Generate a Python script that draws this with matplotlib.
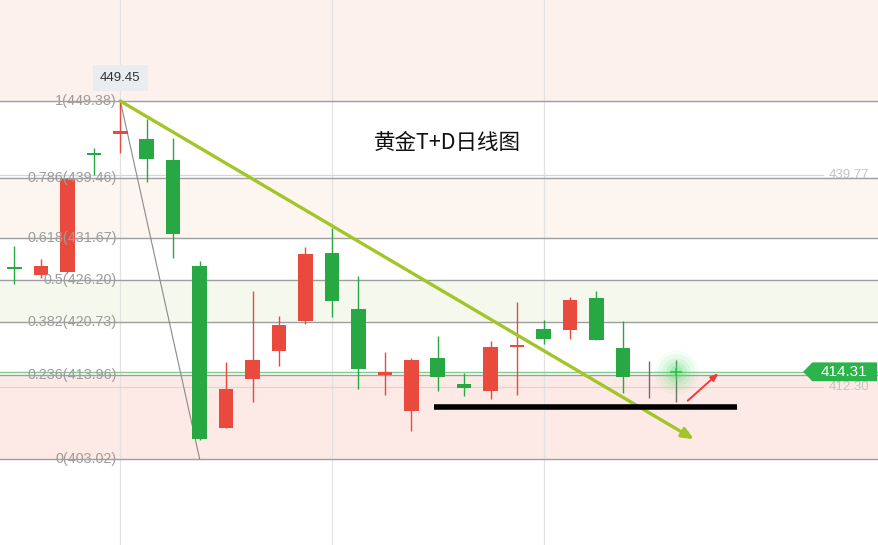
import matplotlib
matplotlib.use("Agg")
import matplotlib.pyplot as plt
from matplotlib.patches import Polygon
import numpy as np

# ---------------- data ----------------
opens  = [427.85, 426.80, 427.20, 442.52, 445.07, 444.46, 441.74, 428.00, 407.00, 413.42,
          417.04, 420.93, 429.66, 422.41, 413.86, 409.27, 416.10, 412.73, 411.87, 417.55,
          419.82, 419.77, 423.87, 417.39, 413.95, 414.31]
closes = [427.75, 428.00, 439.28, 442.44, 445.50, 441.91, 432.12, 405.65, 412.09, 415.84,
          420.37, 429.57, 423.44, 414.64, 414.25, 415.84, 413.68, 412.25, 417.52, 417.70,
          418.60, 423.61, 418.47, 413.68, 413.95, 414.31]
highs  = [430.60, 428.88, 439.45, 443.26, 449.38, 447.01, 444.55, 428.66, 415.62, 424.77,
          421.54, 430.51, 432.89, 426.72, 416.84, 416.06, 418.95, 414.10, 418.30, 423.35,
          420.99, 423.96, 424.81, 420.89, 415.75, 415.84]
lows   = [425.70, 426.46, 427.10, 439.80, 442.70, 438.93, 429.09, 405.50, 407.00, 410.44,
          415.06, 420.46, 421.45, 412.09, 411.35, 406.68, 411.87, 411.22, 410.75, 411.35,
          417.87, 418.60, 418.47, 411.60, 410.88, 410.44]
# 1 = red (up), -1 = green (down), 0 = flat (grey, no body) as seen in the picture
candle_dir = [-1, 1, 1, -1, 1, -1, -1, -1, 1, 1,
              1, 1, -1, -1, 1, 1, -1, -1, 1, 1,
              -1, 1, -1, -1, 0, 0]

fib_ratios = ["1", "0.786", "0.618", "0.5", "0.382", "0.236", "0"]
fib_prices = [449.38, 439.46, 431.67, 426.20, 420.73, 413.96, 403.02]
fib_high_idx, fib_low_idx = 4, 7

title = "黄金T+D日线图"
crosshair_price = 449.45
last_price = 414.31
right_marks = [439.77, 412.30]
support_price = 409.75
trend_end = (25.69, 405.57)
rebound_arrow = [(25.45, 410.57), (26.61, 414.12)]
support_span = (15.86, 27.30)
grid_x = [4, 12, 20]

RED = "#ea4a3d"
GREEN = "#27a843"
FLAT = "#6e6e6e"

# ---------------- figure ----------------
fig = plt.figure(figsize=(8.79, 5.45), dpi=100)
ax = fig.add_axes([0, 0, 1, 1])
ax.set_xlim(-0.548, 32.68)
ax.set_ylim(391.88, 462.46)
ax.axis("off")

# background bands
ax.axhspan(fib_prices[0], 470, color="#fdf1ee", zorder=0, lw=0)
ax.axhspan(fib_prices[2], fib_prices[1], color="#fdf6f0", zorder=0, lw=0)
ax.axhspan(fib_prices[4], fib_prices[3], color="#f5f9ed", zorder=0, lw=0)
ax.axhspan(fib_prices[6], fib_prices[5], color="#fdeae6", zorder=0, lw=0)

# vertical grid
for gx in grid_x:
    ax.axvline(gx, color="#e2e2e2", lw=0.9, zorder=1)

# fib lines + labels
for r, p in zip(fib_ratios, fib_prices):
    ax.axhline(p, color="#9e9e9e", lw=1.0, zorder=1)
    ax.text(3.875, p, f"{r}({p:.2f})", ha="right", va="center", color="#9d9d9d",
            fontsize=10.4, family="Liberation Sans", zorder=6)

# light marks on right
for p in right_marks:
    ax.plot([-0.548, 30.57], [p, p], color="#d6d6d6", lw=0.9, zorder=1)
    ax.text(32.31, p, f"{p:.2f}", ha="right", va="center", color="#c4c4c4",
            fontsize=9.5, family="Liberation Sans", zorder=6)

# current price line
ax.axhline(last_price, color="#84c990", lw=1.0, zorder=1)

# fib diagonal
ax.plot([fib_high_idx, fib_low_idx], [fib_prices[0], fib_prices[-1]],
        color="#8a8a8a", lw=0.8, zorder=2)

# candles
w = 0.55
for i, (o, c, h, l, d) in enumerate(zip(opens, closes, highs, lows, candle_dir)):
    col = {1: RED, -1: GREEN, 0: FLAT}[d]
    ax.plot([i, i], [l, h], color=col, lw=1.0, zorder=3, solid_capstyle="butt")
    if d == 0:
        continue
    bottom = min(o, c)
    height = max(abs(c - o), 0.28)
    if abs(c - o) < 0.28:
        bottom = (o + c) / 2 - 0.14
    ax.bar(i, height, bottom=bottom, width=w, color=col, lw=0, zorder=4)

# green glow at last candle
last_i = len(opens) - 1
for s, a in [(1000, 0.06), (700, 0.08), (420, 0.11), (220, 0.16), (90, 0.25)]:
    ax.scatter([last_i], [last_price], s=s, color="#4fe06a", alpha=a, lw=0, zorder=5)
ax.plot([last_i - 0.2, last_i + 0.2], [last_price, last_price], color="#2fc24c", lw=1.2, zorder=5)
ax.plot([last_i, last_i], [last_price - 0.35, last_price + 0.35], color="#2fc24c", lw=1.2, zorder=5)

# trend line (yellow-green) with arrow
ax.annotate("", xy=trend_end, xytext=(fib_high_idx, fib_prices[0]),
            arrowprops=dict(arrowstyle="-|>,head_length=0.7,head_width=0.3",
                            color="#a2c628", lw=2.4, shrinkA=0, shrinkB=0), zorder=6)

# black support line
ax.plot(list(support_span), [support_price, support_price], color="black", lw=4,
        zorder=6, solid_capstyle="butt")

# red rebound arrow
ax.annotate("", xy=rebound_arrow[1], xytext=rebound_arrow[0],
            arrowprops=dict(arrowstyle="-|>,head_length=0.45,head_width=0.18",
                            color="#f03a3a", lw=1.4, shrinkA=0, shrinkB=0), zorder=6)

# title
ax.text(16.35, 443.9, title, ha="center", va="center", fontsize=15.5,
        family=["Noto Sans CJK SC", "DejaVu Sans"], color="#111111", zorder=7)

# crosshair label
ax.text(fib_high_idx, 452.36, f"{crosshair_price:.2f}", ha="center", va="center",
        fontsize=9.5, family="Liberation Sans", color="#333333", zorder=7,
        bbox=dict(boxstyle="square,pad=0.55", fc="#e9edf0", ec="none"))

# last price tag
tag_h = 1.22
tag = Polygon([(29.81, last_price), (30.16, last_price + tag_h), (32.61, last_price + tag_h),
               (32.61, last_price - tag_h), (30.16, last_price - tag_h)],
              closed=True, fc="#2db34b", ec="none", zorder=7)
ax.add_patch(tag)
ax.text(31.35, last_price, f"{last_price:.2f}", ha="center", va="center", fontsize=11,
        family="Liberation Sans", color="white", zorder=8)

fig.savefig("out.png", dpi=100)
